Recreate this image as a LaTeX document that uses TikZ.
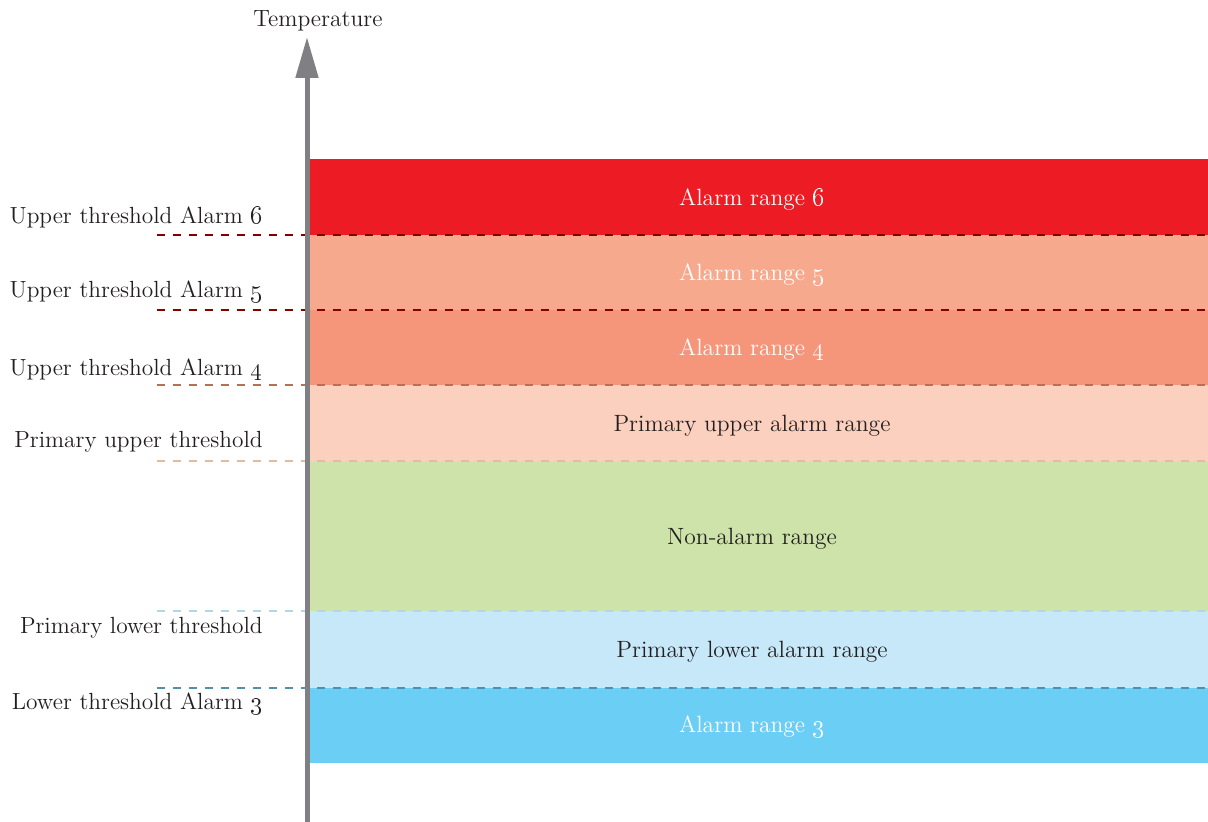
\documentclass[tikz,border=0pt]{standalone}
\usetikzlibrary{arrows.meta}
\definecolor{axisgray}{RGB}{128,128,132}
\definecolor{txtgray}{RGB}{35,31,32}
\definecolor{rsix}{RGB}{237,28,36}
\definecolor{rfive}{RGB}{247,169,142}
\definecolor{rfour}{RGB}{245,150,122}
\definecolor{rupper}{RGB}{252,208,190}
\definecolor{rnone}{RGB}{205,227,170}
\definecolor{rlower}{RGB}{198,232,248}
\definecolor{rthree}{RGB}{107,206,245}
\definecolor{lsix}{RGB}{130,0,0}
\definecolor{lfour}{RGB}{185,110,90}
\definecolor{lupper}{RGB}{232,184,166}
\definecolor{llower}{RGB}{176,214,232}
\definecolor{lthree}{RGB}{80,144,168}
\tikzset{
  thresh/.style={dash pattern=on 0.16cm off 0.16cm, line width=0.04cm},
  limitlabel/.style={anchor=east, inner xsep=0pt, text=txtgray, font=\fontsize{13.3}{15}\selectfont},
  rangelabel/.style={font=\fontsize{13.4}{15}\selectfont},
}
\begin{document}
\begin{tikzpicture}[x=0.02cm, y=-0.02cm]
\useasboundingbox (0,0) rectangle (1208,822);
% ranges
\fill [rsix](309,159) rectangle (1208,235);
\fill [rfive](309,235) rectangle (1208,310);
\fill [rfour](309,310) rectangle (1208,385);
\fill [rupper](309,385) rectangle (1208,461);
\fill [rnone](309,461) rectangle (1208,611);
\fill [rlower](309,611) rectangle (1208,688);
\fill [rthree](309,688) rectangle (1208,763);
\node [rangelabel, text=white] (r6) at (752,200) {Alarm range \oldstylenums{6}};
\node [rangelabel, text=white] (r5) at (752,275) {Alarm range \oldstylenums{5}};
\node [rangelabel, text=white] (r4) at (752,350) {Alarm range \oldstylenums{4}};
\node [rangelabel, text=txtgray] (rup) at (752,426) {Primary upper alarm range};
\node [rangelabel, text=txtgray] (rno) at (752,539) {Non-alarm range};
\node [rangelabel, text=txtgray] (rlo) at (752,652) {Primary lower alarm range};
\node [rangelabel, text=white] (r3) at (752,727) {Alarm range \oldstylenums{3}};
% thresholds
\draw [thresh, lsix](157,235) -- (1208,235);
\draw [thresh, lsix](157,310) -- (1208,310);
\draw [thresh, lfour](157,385) -- (1208,385);
\draw [thresh, lupper](157,461) -- (1208,461);
\draw [thresh, llower](157,611) -- (1208,611);
\draw [thresh, lthree](157,688) -- (1208,688);
\node [limitlabel] (t6) at (263,217) {Upper threshold Alarm \oldstylenums{6}};
\node [limitlabel] (t5) at (263,292) {Upper threshold Alarm \oldstylenums{5}};
\node [limitlabel] (t4) at (263,370) {Upper threshold Alarm \oldstylenums{4}};
\node [limitlabel] (tup) at (263,442) {Primary upper threshold};
\node [limitlabel] (tlo) at (263,628) {Primary lower threshold};
\node [limitlabel] (t3) at (263,704) {Lower threshold Alarm \oldstylenums{3}};
% axis
\draw [-{Triangle[length=0.82cm, width=0.44cm]}, axisgray, line width=0.1cm](307,822) -- (307,37);
\node [text=txtgray, font=\fontsize{13.4}{15}\selectfont] (temp) at (318,21) {Temperature};
\end{tikzpicture}
\end{document}
